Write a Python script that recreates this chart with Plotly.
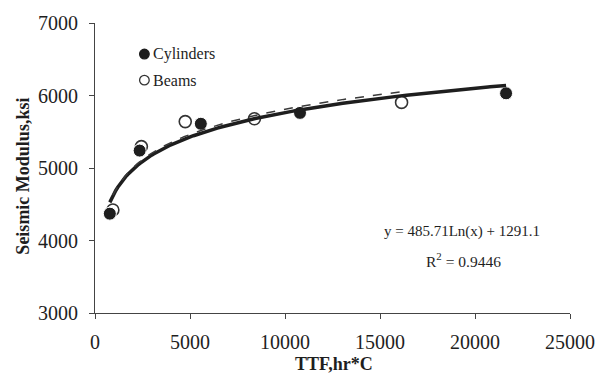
import numpy as np
import plotly.graph_objects as go

# Time-temperature factor (hr*C) and seismic modulus (ksi)
ttf_cylinders = [780, 2350, 5570, 10790, 21635]
modulus_cylinders = [4370, 5240, 5610, 5760, 6030]
ttf_beams = [940, 2440, 4750, 8390, 16135]
modulus_beams = [4420, 5295, 5640, 5680, 5905]

# Logarithmic trend y = a*ln(x) + b reported on the chart
trend_a = 485.71
trend_b = 1291.1
r_squared = 0.9446

x_ticks = [0, 5000, 10000, 15000, 20000, 25000]
y_ticks = [3000, 4000, 5000, 6000, 7000]

FONT = "Liberation Serif"
INK = "#1e1e1e"

fig = go.Figure()

# Markers (beams first so the filled cylinders sit over them)
fig.add_trace(go.Scatter(
    x=ttf_beams, y=modulus_beams, mode="markers", name="Beams",
    marker=dict(symbol="circle", size=12, color="white",
                line=dict(color="#333333", width=1.6)),
    showlegend=False,
))
fig.add_trace(go.Scatter(
    x=ttf_cylinders, y=modulus_cylinders, mode="markers", name="Cylinders",
    marker=dict(symbol="circle", size=13, color=INK,
                line=dict(color="white", width=1)),
    showlegend=False,
))

# Solid trend line across the full data range
all_x = np.array(ttf_cylinders + ttf_beams, dtype=float)
xs = np.linspace(all_x.min(), all_x.max(), 200)
fig.add_trace(go.Scatter(
    x=xs, y=trend_a * np.log(xs) + trend_b, mode="lines",
    line=dict(color=INK, width=3.5), showlegend=False, hoverinfo="skip",
))

# Dashed trend fitted to the beam results
bx = np.array(ttf_beams, dtype=float)
ba, bb = np.polyfit(np.log(bx), np.array(modulus_beams, dtype=float), 1)
xb = np.linspace(bx.min(), bx.max(), 200)
fig.add_trace(go.Scatter(
    x=xb, y=ba * np.log(xb) + bb, mode="lines",
    line=dict(color="#3a3a3a", width=1.5, dash="dash"),
    showlegend=False, hoverinfo="skip",
))

# Legend drawn as symbols + labels inside the plot area
legend_items = [("Cylinders", 0.893, INK, INK), ("Beams", 0.803, "white", "#333333")]
shapes = []
annotations = []
for label, ly, fill, edge in legend_items:
    shapes.append(dict(
        type="circle", xref="paper", yref="paper",
        xsizemode="pixel", ysizemode="pixel",
        xanchor=0.104, yanchor=ly, x0=-4.8, x1=4.8, y0=-4.8, y1=4.8,
        fillcolor=fill, line=dict(color=edge, width=1.3),
    ))
    annotations.append(dict(
        xref="paper", yref="paper", x=0.117, y=ly, text=label,
        showarrow=False, xanchor="left", yanchor="middle",
        font=dict(family=FONT, size=16, color=INK),
    ))

# Trend equation and R^2
annotations.append(dict(
    xref="paper", yref="paper", x=0.772, y=0.28,
    text=f"y = {trend_a}Ln(x) + {trend_b}", showarrow=False,
    xanchor="center", yanchor="middle",
    font=dict(family=FONT, size=15, color=INK),
))
annotations.append(dict(
    xref="paper", yref="paper", x=0.775, y=0.183,
    text=f"R<sup>2</sup> = {r_squared}", showarrow=False,
    xanchor="center", yanchor="middle",
    font=dict(family=FONT, size=15.5, color=INK),
))

# Axis titles
annotations.append(dict(
    xref="paper", yref="paper", x=0.503, y=-0.176,
    text="<b>TTF,hr*C</b>", showarrow=False,
    xanchor="center", yanchor="middle",
    font=dict(family=FONT, size=18, color=INK),
))
annotations.append(dict(
    xref="paper", yref="paper", x=-0.152, y=0.473,
    text="<b>Seismic Modulus,ksi</b>", showarrow=False, textangle=-90,
    xanchor="center", yanchor="middle",
    font=dict(family=FONT, size=18, color=INK),
))

axis_common = dict(
    showgrid=False, zeroline=False, showline=True, linecolor="#444444",
    linewidth=1, ticks="outside", ticklen=5, tickcolor="#444444",
    tickfont=dict(family=FONT, size=20, color=INK),
)

fig.update_layout(
    width=607, height=391,
    margin=dict(l=95, r=33, t=13, b=78),
    paper_bgcolor="white", plot_bgcolor="white",
    xaxis=dict(range=[0, 25000], tickvals=x_ticks,
               ticktext=[str(v) for v in x_ticks],
               ticklabelstandoff=6, **axis_common),
    yaxis=dict(range=[3000, 7000], tickvals=y_ticks,
               ticktext=[str(v) for v in y_ticks],
               ticklabelstandoff=7, **axis_common),
    shapes=shapes, annotations=annotations,
    showlegend=False,
)

fig.write_html("out.html")
